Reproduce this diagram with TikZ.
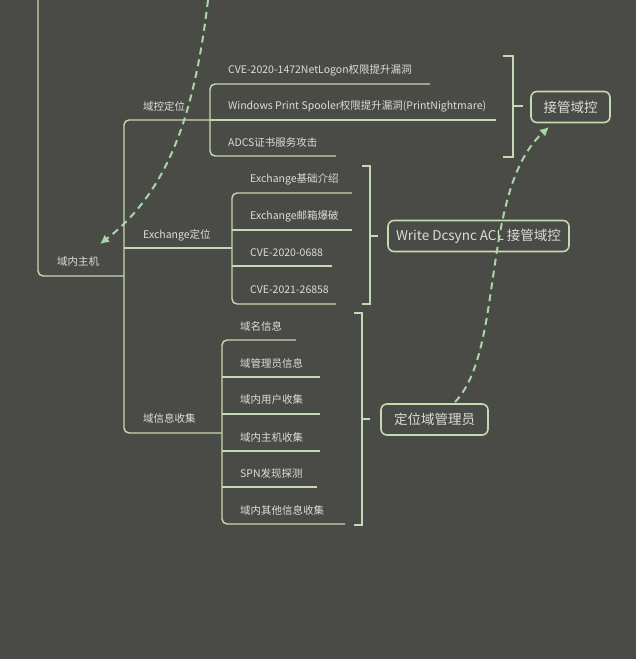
\documentclass[tikz,border=0pt]{standalone}
\usepackage{fontspec}
\setmainfont{Noto Sans CJK SC}
\begin{document}
\begin{tikzpicture}[x=1pt,y=-1pt,
  ln/.style={draw=lineg,line width=1.4pt,rounded corners=5pt},
  txt/.style={text=txtc,font=\fontsize{10.5}{12}\selectfont,anchor=west,inner sep=0pt},
  box/.style={draw=lineg,line width=1.6pt,rounded corners=6pt,text=txtc,font=\fontsize{13.5}{15}\selectfont,minimum height=31pt,inner xsep=6pt},
  dsh/.style={draw=dashg,line width=2pt,dash pattern=on 7pt off 5pt,-{Latex[length=9pt,width=9pt]}}]
\definecolor{bgc}{HTML}{4A4B46}
\definecolor{lineg}{HTML}{C4DAB0}
\definecolor{txtc}{HTML}{DCDDD5}
\definecolor{dashg}{HTML}{A9D6A6}
\usetikzlibrary{arrows.meta}
\fill[bgc] (0,0) rectangle (636,659);
\useasboundingbox (0,0) rectangle (636,659);
% root
\node[txt] (root) at (57,262) {域内主机};
\draw[ln] (38,0) -- (38,276) -- (124,276);
% trunk
\draw[ln] (210,120) -- (124,120) -- (124,433) -- (222,433);
\draw[ln] (124,248) -- (232,248);
\node[txt] (b1) at (143,106) {域控定位};
\node[txt] (b2) at (143,235) {Exchange定位};
\node[txt] (b3) at (143,418) {域信息收集};
% branch 1
\draw[ln] (430,84) -- (210,84) -- (210,156) -- (336,156);
\draw[ln] (210,120) -- (496,120);
\node[txt] (c11) at (228,70) {CVE-2020-1472NetLogon权限提升漏洞};
\node[txt] (c12) at (228,106) {Windows Print Spooler权限提升漏洞(PrintNightmare)};
\node[txt] (c13) at (228,143) {ADCS证书服务攻击};
\draw[ln,rounded corners=0pt] (503,56) -- (513,56) -- (513,157) -- (503,157);
\draw[ln,rounded corners=0pt] (513,106) -- (523,106);
\node[box,minimum width=79pt] (r1) at (570.5,107) {接管域控};
% branch 2
\draw[ln] (352,193) -- (232,193) -- (232,304) -- (336,304);
\draw[ln] (232,230) -- (352,230);
\draw[ln] (232,266) -- (332,266);
\node[txt] (c21) at (250,179) {Exchange基础介绍};
\node[txt] (c22) at (250,216) {Exchange邮箱爆破};
\node[txt] (c23) at (250,253) {CVE-2020-0688};
\node[txt] (c24) at (250,290) {CVE-2021-26858};
\draw[ln,rounded corners=0pt] (362,166) -- (370,166) -- (370,304) -- (362,304);
\draw[ln,rounded corners=0pt] (370,236) -- (378,236);
\node[box,minimum width=181pt] (r2) at (478.5,236) {Write Dcsync ACL 接管域控};
% branch 3
\draw[ln] (296,340) -- (222,340) -- (222,524) -- (345,524);
\draw[ln] (222,377) -- (320,377);
\draw[ln] (222,414) -- (320,414);
\draw[ln] (222,451) -- (320,451);
\draw[ln] (222,487) -- (317,487);
\node[txt] (c31) at (240,326) {域名信息};
\node[txt] (c32) at (240,363) {域管理员信息};
\node[txt] (c33) at (240,400) {域内用户收集};
\node[txt] (c34) at (240,437) {域内主机收集};
\node[txt] (c35) at (240,473) {SPN发现探测};
\node[txt] (c36) at (240,510) {域内其他信息收集};
\draw[ln,rounded corners=0pt] (354,313) -- (362,313) -- (362,525) -- (354,525);
\draw[ln,rounded corners=0pt] (362,419) -- (370,419);
\node[box,minimum width=107pt] (r3) at (434.5,419.5) {定位域管理员};
% dashed arrows
\coordinate (top) at (208,0);
\coordinate (hostend) at (100,244);
\coordinate (r3start) at (455,402);
\coordinate (r1end) at (549,127);
\draw[dsh] (top) .. controls (195,110) and (170,190) .. (hostend);
\draw[dsh] (r3start) .. controls (505,350) and (480,190) .. (r1end);
\end{tikzpicture}
\end{document}
